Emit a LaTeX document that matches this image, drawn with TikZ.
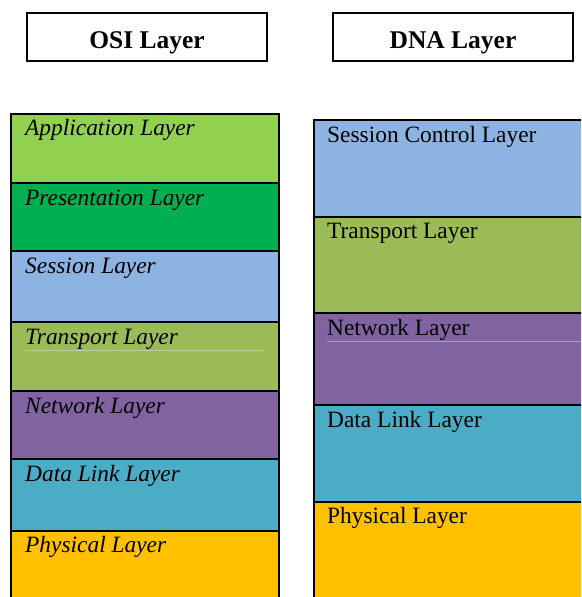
\documentclass[tikz,border=0pt]{standalone}
\usepackage{fontspec}
\setmainfont{Liberation Serif}
\usepackage{tikz}
\tikzset{>=latex}
\definecolor{appgreen}{RGB}{146, 208, 80}
\definecolor{presgreen}{RGB}{0, 176, 80}
\definecolor{sessblue}{RGB}{141, 179, 226}
\definecolor{transgreen}{RGB}{155, 187, 89}
\definecolor{netpurple}{RGB}{128, 100, 162}
\definecolor{linkblue}{RGB}{75, 172, 198}
\definecolor{physorange}{RGB}{255, 192, 0}
\tikzset{
  headbox/.style = {draw, line width = 1.5pt, minimum width = 240pt, minimum height = 48pt, inner sep = 0pt},
  headtext/.style = {anchor = base, font = \fontsize{25.5}{30}\selectfont\bfseries},
  ositext/.style = {anchor = base west, inner sep = 0pt, font = \fontsize{23.4}{28}\selectfont\itshape},
  dnatext/.style = {anchor = base west, inner sep = 0pt, font = \fontsize{23.4}{28}\selectfont},
  cut/.style = {line width = 1.5pt},
  ghost/.style = {white, opacity = 0.35, line width = 0.6pt}
}

\begin{document}
\begin{tikzpicture}[x = 1pt, y = -1pt]
\useasboundingbox (0,0) rectangle (581,597);
\clip (0,0) rectangle (581,597);
% headers
\node[headbox] (osi) at (147,37) {};
\node[headtext] (osi-title) at (147,48) {OSI Layer};
\node[headbox] (dna) at (453,37) {};
\node[headtext] (dna-title) at (453,48) {DNA Layer};
% OSI stack
\fill[appgreen] (11,114) rectangle (279,183);
\fill[presgreen] (11,183) rectangle (279,251);
\fill[sessblue] (11,251) rectangle (279,322);
\fill[transgreen] (11,322) rectangle (279,391);
\fill[netpurple] (11,391) rectangle (279,459);
\fill[linkblue] (11,459) rectangle (279,531);
\fill[physorange] (11,531) rectangle (279,600);
\draw[ghost] (25,350.5) -- (264,350.5);
\draw[cut] (11,183) -- (279,183) (11,251) -- (279,251) (11,322) -- (279,322);
\draw[cut] (11,391) -- (279,391) (11,459) -- (279,459) (11,531) -- (279,531);
\draw[line width = 2pt] (11,600) -- (11,114) -- (279,114) -- (279,600);
\node[ositext] (o-app) at (25,135) {Application Layer};
\node[ositext] (o-pres) at (25,205) {Presentation Layer};
\node[ositext] (o-sess) at (25,273) {Session Layer};
\node[ositext] (o-trans) at (25,344) {Transport Layer};
\node[ositext] (o-net) at (25,413) {Network Layer};
\node[ositext] (o-link) at (25,481) {Data Link Layer};
\node[ositext] (o-phys) at (25,552) {Physical Layer};
% DNA stack
\fill[sessblue] (314,120) rectangle (590,217);
\fill[transgreen] (314,217) rectangle (590,313);
\fill[netpurple] (314,313) rectangle (590,405);
\fill[linkblue] (314,405) rectangle (590,502);
\fill[physorange] (314,502) rectangle (590,600);
\draw[ghost] (327,341.5) -- (590,341.5);
\draw[cut] (314,217) -- (590,217) (314,313) -- (590,313);
\draw[cut] (314,405) -- (590,405) (314,502) -- (590,502);
\draw[line width = 2.5pt] (314,600) -- (314,120) -- (590,120);
\node[dnatext] (d-sess) at (327,142) {Session Control Layer};
\node[dnatext] (d-trans) at (327,238) {Transport Layer};
\node[dnatext] (d-net) at (327,335) {Network Layer};
\node[dnatext] (d-link) at (327,427) {Data Link Layer};
\node[dnatext] (d-phys) at (327,523) {Physical Layer};
\end{tikzpicture}
\end{document}
